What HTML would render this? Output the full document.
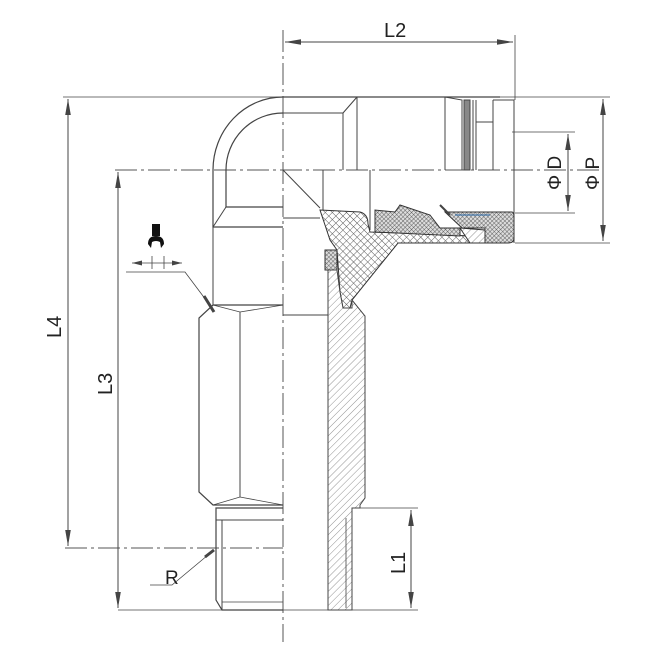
<!DOCTYPE html>
<html><head><meta charset="utf-8"><style>
html,body{margin:0;padding:0;background:#fff;}
svg{display:block;}
text{font-family:"Liberation Sans",sans-serif;fill:#222;}
</style></head><body>
<svg width="650" height="652" viewBox="0 0 650 652" xmlns="http://www.w3.org/2000/svg">
<defs>
<pattern id="xh" width="5" height="5" patternUnits="userSpaceOnUse" patternTransform="rotate(45)">
<rect width="5" height="5" fill="#fff"/>
<path d="M0 0H5M0 0V5" stroke="#555" stroke-width="0.9"/>
</pattern>
<pattern id="dxh" width="3" height="3" patternUnits="userSpaceOnUse" patternTransform="rotate(45)">
<rect width="3" height="3" fill="#ddd"/>
<path d="M0 0H3M0 0V3" stroke="#444" stroke-width="0.8"/>
</pattern>
<pattern id="hh" width="5" height="5" patternUnits="userSpaceOnUse" patternTransform="rotate(45)">
<rect width="5" height="5" fill="#fff"/>
<path d="M0 0V5" stroke="#777" stroke-width="0.8"/>
</pattern>
<marker id="a" viewBox="0 0 10 10" refX="10" refY="5" markerWidth="10" markerHeight="10" orient="auto-start-reverse" markerUnits="userSpaceOnUse">
<path d="M0 2.5L10 5L0 7.5z" fill="#444"/>
</marker>
<marker id="b" viewBox="0 0 20 10" refX="20" refY="5" markerWidth="18" markerHeight="8" orient="auto-start-reverse" markerUnits="userSpaceOnUse">
<path d="M0 1.5L20 5L0 8.5z" fill="#444"/>
</marker>
</defs>
<g fill="none" stroke="#444" stroke-width="1">
<line x1="283" y1="30" x2="283" y2="642" stroke-dasharray="22,4,3,4" stroke="#555"/>
<line x1="115" y1="170" x2="600" y2="170" stroke-dasharray="22,4,3,4" stroke="#555"/>
<line x1="65" y1="548" x2="283" y2="548" stroke-dasharray="22,4,3,4" stroke="#555"/>
<line x1="63" y1="97" x2="610" y2="97" stroke-width="0.8"/>
<line x1="118" y1="610" x2="418" y2="610" stroke-width="0.8"/>
<line x1="515" y1="35" x2="515" y2="100" stroke-width="0.8"/>
<line x1="358" y1="508" x2="418" y2="508" stroke-width="0.8"/>
<line x1="512" y1="132" x2="575" y2="132" stroke-width="0.8"/>
<line x1="515" y1="213" x2="575" y2="213" stroke-width="0.8"/>
<line x1="515" y1="243" x2="610" y2="243" stroke-width="0.8"/>
<line x1="285" y1="42" x2="513" y2="42" marker-start="url(#b)" marker-end="url(#b)"/>
<line x1="68" y1="99" x2="68" y2="546" marker-start="url(#b)" marker-end="url(#b)"/>
<line x1="118" y1="172" x2="118" y2="608" marker-start="url(#b)" marker-end="url(#b)"/>
<line x1="411" y1="510" x2="411" y2="608" marker-start="url(#b)" marker-end="url(#b)"/>
<line x1="568" y1="134" x2="568" y2="211" marker-start="url(#b)" marker-end="url(#b)"/>
<line x1="603" y1="99" x2="603" y2="241" marker-start="url(#b)" marker-end="url(#b)"/>
<polyline points="126,272 185,272 212,308" stroke-width="0.8"/>
<line x1="204" y1="296" x2="214" y2="312" stroke-width="3"/>
<line x1="132" y1="263" x2="182" y2="263" marker-start="url(#a)" marker-end="url(#a)" stroke-width="0.8"/>
<line x1="152" y1="256" x2="152" y2="269" stroke-width="0.8"/>
<line x1="164" y1="256" x2="164" y2="269" stroke-width="0.8"/>
<polyline points="150,585 172,585 214,550" stroke-width="0.8"/>
<line x1="205" y1="557" x2="214" y2="550" stroke-width="3"/>

<path d="M283 97 A70 73 0 0 0 213 170 V227 H283" stroke-width="1.2"/>
<path d="M283 113 A57 57 0 0 0 226 170 V207 H283" stroke-width="1.2"/>
<line x1="226" y1="207" x2="213" y2="227"/>
<line x1="213" y1="227" x2="213" y2="305"/>
<path d="M283 305 H213 L199 318 V492 L213 505 H283" stroke-width="1.2"/>
<path d="M213 305 L240 312 L283 305 M213 505 L240 497 L283 505" stroke-width="0.8"/>
<line x1="240" y1="312" x2="240" y2="497"/>
<path d="M283 508 H216 V600 L222 610 H283" stroke-width="1.2"/>
<line x1="216" y1="520" x2="283" y2="520"/>
<line x1="222" y1="520" x2="222" y2="610"/>
<line x1="222" y1="602" x2="283" y2="602" stroke-width="0.8"/>

<line x1="283" y1="97" x2="500" y2="97" stroke-width="1.2"/>
<line x1="283" y1="113" x2="343" y2="113"/>
<line x1="343" y1="113" x2="357" y2="97"/>
<line x1="343" y1="113" x2="343" y2="170"/>
<line x1="357" y1="97" x2="357" y2="170"/>
<line x1="445" y1="97" x2="445" y2="170"/>
<path d="M445 97 L462 100 V170" />
<rect x="464" y="100" width="6" height="70" fill="#888" stroke="#444"/>
<line x1="473" y1="100" x2="473" y2="170"/>
<path d="M476 100 V170 M476 122 H493 M493 100 V170 M493 100 H514 V243" />
<line x1="283" y1="170" x2="320" y2="208"/>
<line x1="323" y1="170" x2="323" y2="210"/>
<line x1="370" y1="170" x2="370" y2="230"/>
<line x1="283" y1="218" x2="320" y2="218"/>
<path d="M320 210 L360 212 Q368 214 368 224 L370 232 L430 234 L470 236 L470 243 L398 243 L352 300 L350 308 L343 308 L340 292 L337 250 L330 240 L325 225 Z" fill="url(#xh)" stroke="#333"/>
<path d="M375 232 L375 210 L395 212 L400 205 L430 215 L440 228 L460 228 L460 236 Z" fill="url(#dxh)" stroke="#333"/>
<path d="M445 212 L512 212 Q514 212 514 218 V238 Q514 243 508 243 H485 V228 L462 228 Z" fill="url(#dxh)" stroke="#333"/>
<path d="M450 215 L440 205" stroke-width="2"/>
<path d="M455 215 H490" stroke="#47a" stroke-width="1.2"/>
<path d="M460 228 L485 230 V243 L470 243 Z" fill="url(#hh)" stroke="#333"/>
<rect x="325" y="250" width="12" height="20" fill="url(#dxh)" stroke="#333"/>
<path d="M328 270 L337 270 L340 292 L343 308 L352 308 L352 300 L365 316 V498 L360 505 V508 L352 508 V610 H328 Z" fill="url(#hh)" stroke="#444"/>
<line x1="283" y1="315" x2="328" y2="315"/>
<line x1="346" y1="518" x2="346" y2="608" stroke-width="0.8"/>
</g>
<g fill="#111">
<rect x="152" y="224" width="8" height="12"/>
<path d="M148 244 Q148 236 156 236 Q164 236 164 244 L161 248 L160 242 Q156 240 152 242 L151 248 Z"/>
</g>
<text x="384" y="37" font-size="20">L2</text>
<text transform="translate(61,338) rotate(-90)" font-size="20">L4</text>
<text transform="translate(112,395) rotate(-90)" font-size="20">L3</text>
<text transform="translate(405,574) rotate(-90)" font-size="20">L1</text>
<text transform="translate(561,190) rotate(-90)" font-size="19">Φ D</text>
<text transform="translate(599,190) rotate(-90)" font-size="19">Φ P</text>
<text x="165" y="584" font-size="19">R</text>
</svg>
</body></html>
